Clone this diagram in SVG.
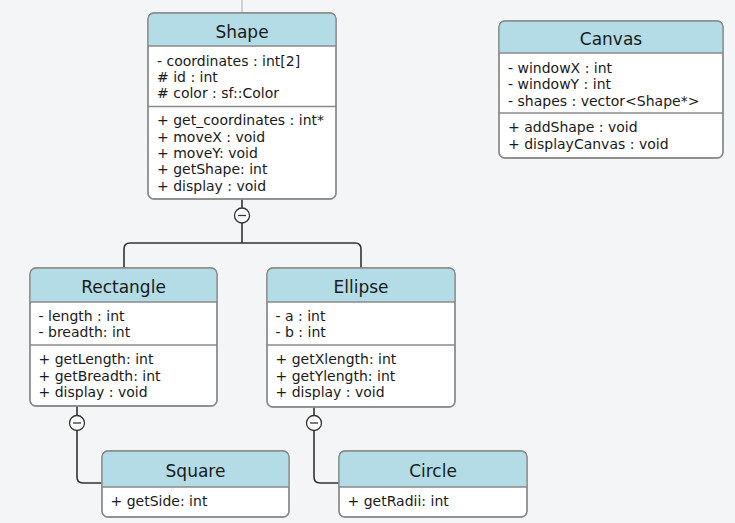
<svg xmlns="http://www.w3.org/2000/svg" width="735" height="523" viewBox="0 0 735 523">
<style>
.box{fill:#ffffff;stroke:#8a8a8a;stroke-width:1.3}
.frame{fill:none;stroke:#8a8a8a;stroke-width:1.3}
.hdr{fill:#b3dce6}
.sep{stroke:#8a8a8a;stroke-width:1.3}
.title{font-family:"DejaVu Sans",sans-serif;font-size:17px;fill:#1a1a1a;text-anchor:middle}
.t{font-family:"DejaVu Sans",sans-serif;font-size:14px;fill:#1a1a1a}
.conn{fill:none;stroke:#333333;stroke-width:1.6}
.knob{fill:#ffffff;stroke:#333333;stroke-width:1.3}
.minus{stroke:#333333;stroke-width:1.3}
</style>
<defs>
<clipPath id="cShape"><rect x="148" y="13" width="188" height="186" rx="6"/></clipPath>
<clipPath id="cCanvas"><rect x="499" y="21" width="224" height="137" rx="6"/></clipPath>
<clipPath id="cRect"><rect x="30" y="268" width="187" height="138" rx="6"/></clipPath>
<clipPath id="cEll"><rect x="267" y="268" width="188" height="139" rx="6"/></clipPath>
<clipPath id="cSq"><rect x="102" y="451" width="187" height="66" rx="6"/></clipPath>
<clipPath id="cCi"><rect x="339" y="451" width="188" height="66" rx="6"/></clipPath>
</defs>
<rect x="0" y="0" width="735" height="523" fill="#f4f5f7"/>
<line x1="242" y1="0" x2="242" y2="13" stroke="#bcbcbc" stroke-width="1.3"/>

<g id="connectors">
<path class="conn" d="M242 199 V243 M124 268 V249 Q124 243 130 243 H355 Q361 243 361 249 V268"/>
<circle class="knob" cx="242" cy="215.5" r="7.5"/>
<line class="minus" x1="238" y1="215.5" x2="246" y2="215.5"/>
<path class="conn" d="M77 406 V477 Q77 483 83 483 H102"/>
<circle class="knob" cx="77" cy="423" r="7.5"/>
<line class="minus" x1="73" y1="423" x2="81" y2="423"/>
<path class="conn" d="M314 407 V477 Q314 483 320 483 H339"/>
<circle class="knob" cx="314" cy="423" r="7.5"/>
<line class="minus" x1="310" y1="423" x2="318" y2="423"/>
</g>

<g id="Shape">
<rect class="box" x="148" y="13" width="188" height="186" rx="6"/>
<rect class="hdr" x="148" y="13" width="188" height="33" clip-path="url(#cShape)"/>
<rect class="frame" x="148" y="13" width="188" height="186" rx="6"/>
<line class="sep" x1="148" y1="46" x2="336" y2="46"/>
<line class="sep" x1="148" y1="106.5" x2="336" y2="106.5"/>
<text class="title" x="242" y="38">Shape</text>
<text class="t" x="157" y="66">- coordinates : int[2]</text>
<text class="t" x="157" y="82">#  id : int</text>
<text class="t" x="157" y="98"># color : sf::Color</text>
<text class="t" x="157" y="125">+ get_coordinates : int*</text>
<text class="t" x="157" y="141.5">+ moveX : void</text>
<text class="t" x="157" y="158">+ moveY: void</text>
<text class="t" x="157" y="174">+ getShape: int</text>
<text class="t" x="157" y="190.5">+ display : void</text>
</g>

<g id="Canvas">
<rect class="box" x="499" y="21" width="224" height="137" rx="6"/>
<rect class="hdr" x="499" y="21" width="224" height="32" clip-path="url(#cCanvas)"/>
<rect class="frame" x="499" y="21" width="224" height="137" rx="6"/>
<line class="sep" x1="499" y1="53" x2="723" y2="53"/>
<line class="sep" x1="499" y1="113" x2="723" y2="113"/>
<text class="title" x="611" y="45">Canvas</text>
<text class="t" x="508" y="73">- windowX : int</text>
<text class="t" x="508" y="89">- windowY : int</text>
<text class="t" x="508" y="106">- shapes : vector&lt;Shape*&gt;</text>
<text class="t" x="508" y="132">+ addShape : void</text>
<text class="t" x="508" y="149">+ displayCanvas : void</text>
</g>

<g id="Rectangle">
<rect class="box" x="30" y="268" width="187" height="138" rx="6"/>
<rect class="hdr" x="30" y="268" width="187" height="34" clip-path="url(#cRect)"/>
<rect class="frame" x="30" y="268" width="187" height="138" rx="6"/>
<line class="sep" x1="30" y1="302" x2="217" y2="302"/>
<line class="sep" x1="30" y1="345" x2="217" y2="345"/>
<text class="title" x="123.5" y="293">Rectangle</text>
<text class="t" x="38.5" y="321">- length : int</text>
<text class="t" x="38.5" y="337">- breadth: int</text>
<text class="t" x="38.5" y="364">+ getLength: int</text>
<text class="t" x="38.5" y="380.5">+ getBreadth: int</text>
<text class="t" x="38.5" y="397">+ display : void</text>
</g>

<g id="Ellipse">
<rect class="box" x="267" y="268" width="188" height="139" rx="6"/>
<rect class="hdr" x="267" y="268" width="188" height="34" clip-path="url(#cEll)"/>
<rect class="frame" x="267" y="268" width="188" height="139" rx="6"/>
<line class="sep" x1="267" y1="302" x2="455" y2="302"/>
<line class="sep" x1="267" y1="345" x2="455" y2="345"/>
<text class="title" x="361" y="293">Ellipse</text>
<text class="t" x="275.5" y="321">- a : int</text>
<text class="t" x="275.5" y="337">- b : int</text>
<text class="t" x="275.5" y="364">+ getXlength: int</text>
<text class="t" x="275.5" y="380.5">+ getYlength: int</text>
<text class="t" x="275.5" y="397">+ display : void</text>
</g>

<g id="Square">
<rect class="box" x="102" y="451" width="187" height="66" rx="6"/>
<rect class="hdr" x="102" y="451" width="187" height="36" clip-path="url(#cSq)"/>
<rect class="frame" x="102" y="451" width="187" height="66" rx="6"/>
<line class="sep" x1="102" y1="487" x2="289" y2="487"/>
<text class="title" x="195.5" y="477">Square</text>
<text class="t" x="110.5" y="506">+ getSide: int</text>
</g>

<g id="Circle">
<rect class="box" x="339" y="451" width="188" height="66" rx="6"/>
<rect class="hdr" x="339" y="451" width="188" height="36" clip-path="url(#cCi)"/>
<rect class="frame" x="339" y="451" width="188" height="66" rx="6"/>
<line class="sep" x1="339" y1="487" x2="527" y2="487"/>
<text class="title" x="433" y="477">Circle</text>
<text class="t" x="347.5" y="506">+ getRadii: int</text>
</g>
</svg>
